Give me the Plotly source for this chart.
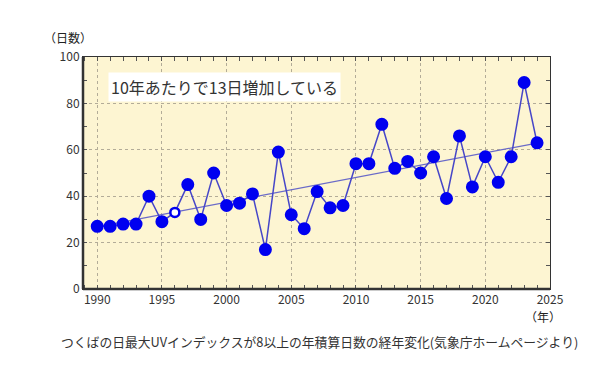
import plotly.graph_objects as go

years = list(range(1990, 2025))
days = [27, 27, 28, 28, 40, 29, 33, 45, 30, 50,
        36, 37, 41, 17, 59, 32, 26, 42, 35, 36,
        54, 54, 71, 52, 55, 50, 57, 39, 66, 44,
        57, 46, 57, 89, 63]
open_years = [1996]
trend_years = [1990, 2024]
trend_values = [26.8, 62.9]

x_ticks = [1990, 1995, 2000, 2005, 2010, 2015, 2020, 2025]
y_ticks = [0, 20, 40, 60, 80, 100]

title_text = "10年あたりで13日増加している"
y_title = "（日数）"
x_title = "（年）"
caption = "つくばの日最大UVインデックスが8以上の年積算日数の経年変化(気象庁ホームページより)"

JP = "Noto Sans CJK JP"
BLUE = "#0000F0"
LINE = "#4646C8"

fill = ["white" if y in open_years else BLUE for y in years]
sizes = [9 if y in open_years else 11 for y in years]
borders = [2.5 if y in open_years else 2 for y in years]

fig = go.Figure()
fig.add_trace(go.Scatter(x=trend_years, y=trend_values, mode="lines",
                         line=dict(color="#6A6AC8", width=1.2),
                         hoverinfo="skip", showlegend=False))
fig.add_trace(go.Scatter(x=years, y=days, mode="lines+markers",
                         line=dict(color=LINE, width=1.5),
                         marker=dict(size=sizes, color=fill, opacity=1,
                                     line=dict(color=BLUE, width=borders)),
                         showlegend=False))

axis_common = dict(showline=True, linecolor="#333333", linewidth=1,
                   mirror="allticks", ticks="inside", ticklen=0,
                   showgrid=True, gridcolor="#B3AC98", griddash="dot",
                   gridwidth=1, zeroline=False,
                   tickfont=dict(family=JP, size=12, color="#333333"))

fig.update_xaxes(range=[1988.9, 2025], tickvals=x_ticks, **axis_common,
                 minor=dict(dtick=1, ticks="inside", ticklen=4,
                            tickcolor="#555555", showgrid=False))
fig.update_yaxes(range=[0, 100], tickvals=y_ticks, **axis_common,
                 minor=dict(dtick=10, ticks="inside", ticklen=4,
                            tickcolor="#555555", showgrid=False))

fig.add_shape(type="line", xref="paper", yref="paper", x0=0, x1=0, y0=0, y1=1,
              line=dict(color="#333333", width=2.5))
fig.add_shape(type="line", xref="paper", yref="paper", x0=0, x1=1, y0=0, y1=0,
              line=dict(color="#333333", width=2.5))

fig.add_annotation(x=0.304, y=0.871, xref="paper", yref="paper",
                   xanchor="center", yanchor="middle",
                   text=title_text, showarrow=False, bgcolor="white",
                   borderpad=2,
                   font=dict(family=JP, size=16, color="#333333"))
fig.add_annotation(x=-0.032, y=1.083, xref="paper", yref="paper",
                   xanchor="center", yanchor="middle",
                   text=y_title, showarrow=False, borderpad=0,
                   font=dict(family=JP, size=12, color="#222222"))
fig.add_annotation(x=0.985, y=-0.118, xref="paper", yref="paper",
                   xanchor="center", yanchor="middle",
                   text=x_title, showarrow=False,
                   font=dict(family=JP, size=12, color="#222222"))
fig.add_annotation(x=0.507, y=-0.228, xref="paper", yref="paper",
                   xanchor="center", yanchor="middle",
                   text=caption, showarrow=False,
                   font=dict(family=JP, size=12.8, color="#333333"))

fig.update_layout(width=615, height=373,
                  margin=dict(l=83, r=65, t=57, b=84),
                  plot_bgcolor="#FDF5D2", paper_bgcolor="white")

fig.write_html("out.html", config={"displayModeBar": False},
               post_script="document.body.style.margin='0';")
